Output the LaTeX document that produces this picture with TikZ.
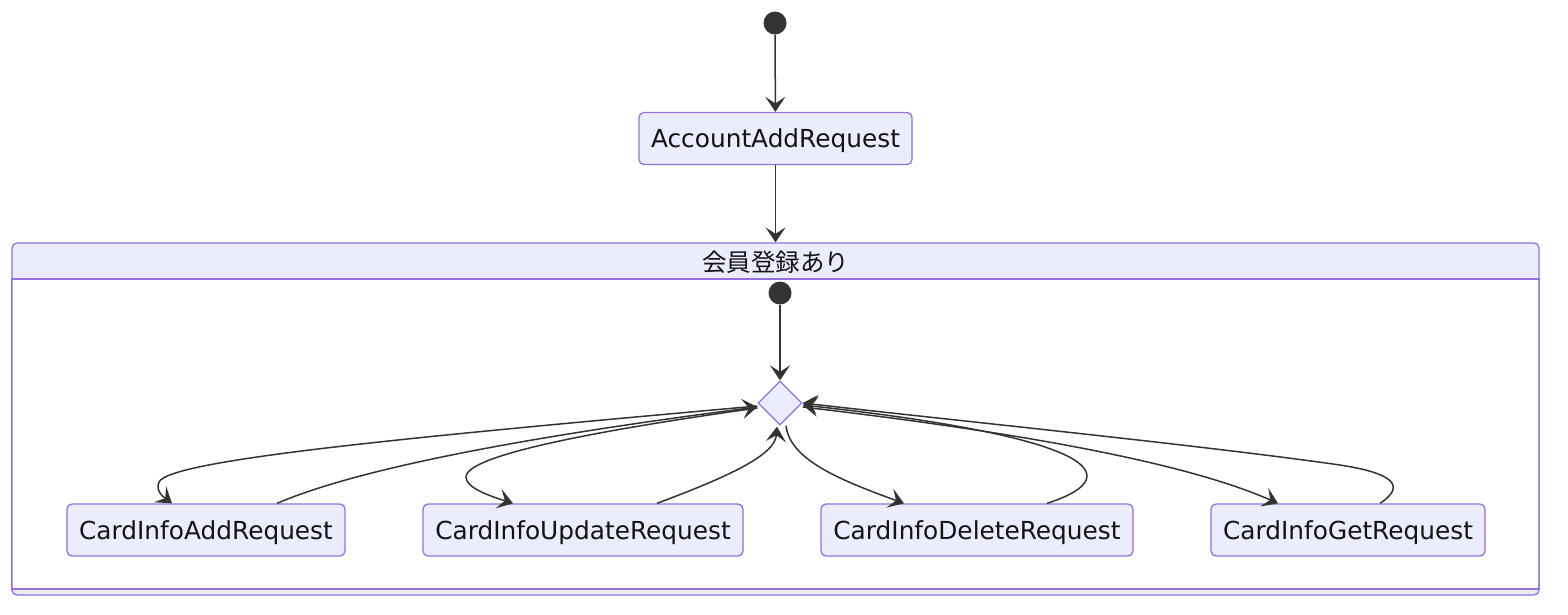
\documentclass[tikz,border=0pt]{standalone}
\usepackage{fontspec}
\setmainfont{DejaVu Sans}
\newfontfamily\cjk{Noto Sans CJK JP}
\usetikzlibrary{shapes.geometric,arrows.meta,calc}
\definecolor{nodefill}{HTML}{ECECFF}
\definecolor{nodeline}{HTML}{9370DB}
\definecolor{edgecol}{HTML}{333333}
\definecolor{txt}{HTML}{131313}
\begin{document}
\begin{tikzpicture}[x=1pt,y=-1pt,
  state/.style={draw=nodeline, fill=nodefill, line width=1.3pt, rounded corners=5pt, minimum height=52pt, inner sep=0pt, text height=18pt, text depth=0pt, font=\fontsize{24.8}{28}\selectfont, text=txt},
  startdot/.style={circle, fill=edgecol, minimum size=23pt, inner sep=0pt},
  choice/.style={diamond, draw=nodeline, fill=nodefill, line width=1.3pt, minimum width=44pt, minimum height=44pt, inner sep=0pt},
  edgeline/.style={draw=edgecol, line width=1.5pt, -{Stealth[length=15pt,width=20pt,inset=6.5pt]}},
  compbox/.style={draw=nodeline, fill=nodefill, line width=1.3pt, rounded corners=5pt, inner sep=0pt}]
\useasboundingbox (0,0) rectangle (1568,614);
% composite state
\node[compbox, minimum width=1527pt, minimum height=352pt] (comp) at (775.5,419) {};
\fill[white] (12.7,279) rectangle (1538.3,589);
\draw[nodeline, line width=1.3pt] (comp.west |- 0,279) -- (comp.east |- 0,279);
\draw[nodeline, line width=1.3pt] (comp.west |- 0,589) -- (comp.east |- 0,589);
\draw[nodeline, line width=1.3pt] (comp.west |- 0,279) -- (comp.west |- 0,589);
\draw[nodeline, line width=1.3pt] (comp.east |- 0,279) -- (comp.east |- 0,589);
\node[font=\cjk\fontsize{24.5}{28}\selectfont, text=txt] (title) at (775.5,262) {会員登録あり};
% outer nodes
\node[startdot] (s0) at (775,23) {};
\node[state, minimum width=273pt] (acc) at (775.5,138.5) {AccountAddRequest};
% inner nodes
\node[startdot] (s1) at (780,293) {};
\node[choice] (dec) at (780,403) {};
\node[state, minimum width=278pt] (add) at (206,530) {CardInfoAddRequest};
\node[state, minimum width=320pt] (upd) at (583,530) {CardInfoUpdateRequest};
\node[state, minimum width=312pt] (del) at (977,530) {CardInfoDeleteRequest};
\node[state, minimum width=274pt] (get) at (1348,530) {CardInfoGetRequest};
% edges
\draw[edgeline] (s0) -- (acc);
\draw[edgeline] (acc) -- (comp.north);
\draw[edgeline] (s1) -- (dec);
\draw[edgeline] ($(dec.west)+(0,3)$) .. controls (400,438) and (170,460) .. (159,482) .. controls (155,492) and (165,498) .. ($(add.north)+(-34,0)$);
\draw[edgeline] ($(add.north)+(71,0)$) .. controls (350,472) and (500,440) .. ($(dec.west)+(0,4)$);
\draw[edgeline] ($(dec.west)+(0,5)$) .. controls (600,430) and (466,455) .. (466,477) .. controls (466,488) and (490,496) .. ($(upd.north)+(-70,0)$);
\draw[edgeline] ($(upd.north)+(74,0)$) .. controls (730,476) and (775,455) .. ($(dec.south)+(-3,1)$);
\draw[edgeline] ($(dec.south)+(6,0)$) .. controls (790,460) and (840,480) .. ($(del.north)+(-73,0)$);
\draw[edgeline] ($(del.north)+(70,0)$) .. controls (1120,480) and (1120,440) .. ($(dec.east)+(0,2)$);
\draw[edgeline] ($(dec.east)+(0,4)$) .. controls (1000,430) and (1180,460) .. ($(get.north)+(-70,0)$);
\draw[edgeline] ($(get.north)+(32,0)$) .. controls (1400,490) and (1405,475) .. (1340,465) .. controls (1200,445) and (950,420) .. (dec.east);
\end{tikzpicture}
\end{document}
